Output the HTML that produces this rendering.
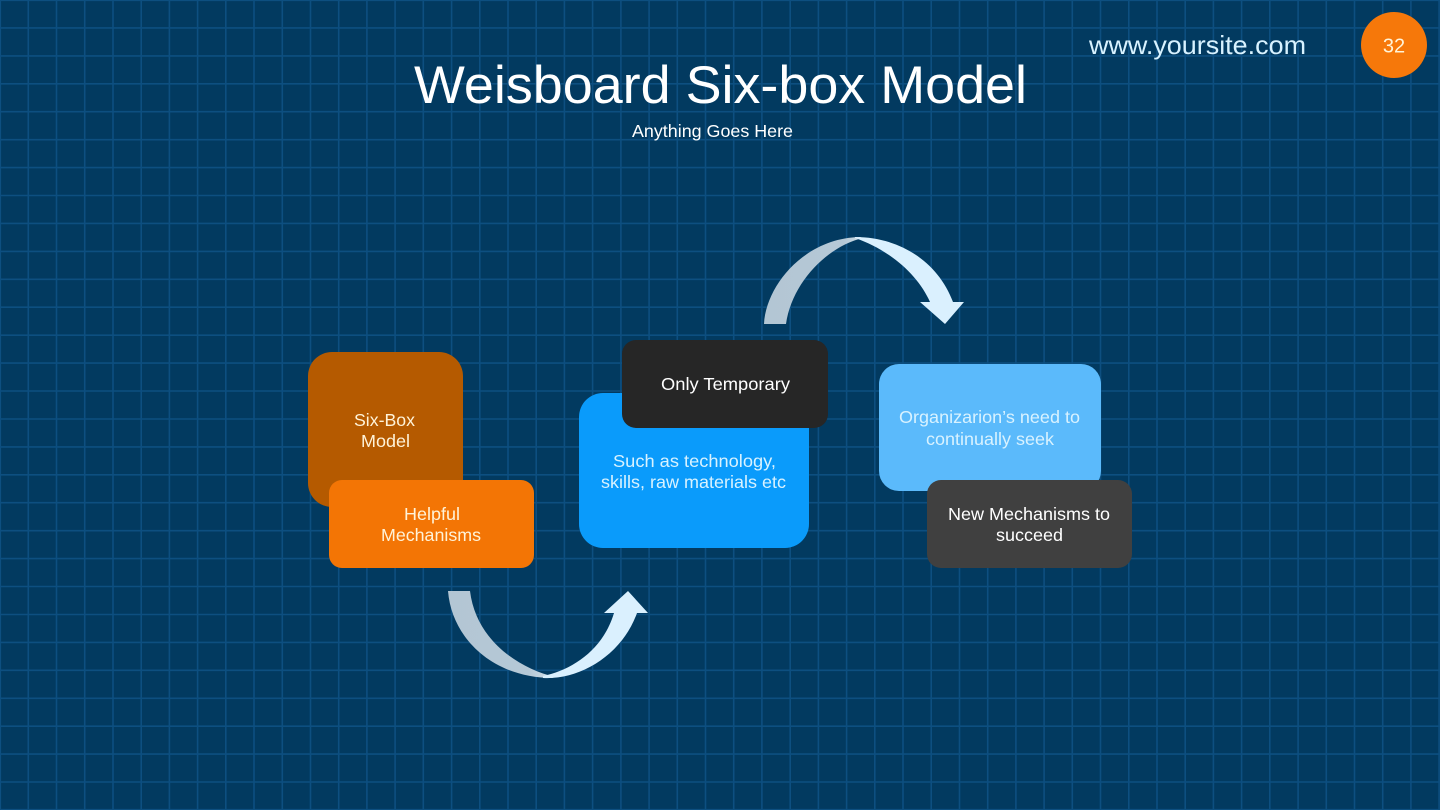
<!DOCTYPE html>
<html><head><meta charset="utf-8"><style>
html,body{margin:0;padding:0;background:#023a60}
svg{display:block}
text{font-family:"Liberation Sans",sans-serif;font-size:17.6px}
</style></head><body>
<svg id="s" width="1440" height="810" viewBox="0 0 1440 810" xmlns="http://www.w3.org/2000/svg">
<defs>
<linearGradient id="l1" x1="0" y1="0" x2="1" y2="0"><stop offset="0" stop-color="#b3c6d4"/><stop offset="0.8" stop-color="#b5c8d6"/><stop offset="1" stop-color="#cfdde6"/></linearGradient>
<linearGradient id="l2" x1="0" y1="0" x2="1" y2="0"><stop offset="0" stop-color="#b3c6d4"/><stop offset="0.75" stop-color="#b5c8d6"/><stop offset="1" stop-color="#d5e3ec"/></linearGradient>
</defs>
<rect width="1440" height="810" fill="#023a60"/>
<path fill="none" stroke="#0d4f80" stroke-width="1.6" d="M0.3 0V810M28.3 0V810M56.5 0V810M84.7 0V810M113 0V810M141.2 0V810M169.4 0V810M197.6 0V810M225.8 0V810M254 0V810M282.3 0V810M310.5 0V810M338.7 0V810M366.9 0V810M395.1 0V810M423.3 0V810M451.6 0V810M479.8 0V810M508 0V810M536.2 0V810M564.4 0V810M592.6 0V810M620.9 0V810M649.1 0V810M677.3 0V810M705.5 0V810M733.7 0V810M761.9 0V810M790.2 0V810M818.4 0V810M846.6 0V810M874.8 0V810M903 0V810M931.2 0V810M959.5 0V810M987.7 0V810M1015.9 0V810M1044.1 0V810M1072.3 0V810M1100.5 0V810M1128.8 0V810M1157 0V810M1185.2 0V810M1213.4 0V810M1241.6 0V810M1269.8 0V810M1298.1 0V810M1326.3 0V810M1354.5 0V810M1382.7 0V810M1410.9 0V810M1439.1 0V810"/>
<path fill="none" stroke="#0d4f80" stroke-width="1.6" d="M0 0.3H1440M0 27.9H1440M0 55.9H1440M0 83.8H1440M0 111.7H1440M0 139.7H1440M0 167.6H1440M0 195.5H1440M0 223.4H1440M0 251.4H1440M0 279.3H1440M0 307.2H1440M0 335.2H1440M0 363.1H1440M0 391H1440M0 419H1440M0 446.9H1440M0 474.8H1440M0 502.7H1440M0 530.7H1440M0 558.6H1440M0 586.5H1440M0 614.5H1440M0 642.4H1440M0 670.3H1440M0 698.3H1440M0 726.2H1440M0 754.1H1440M0 782H1440M0 809.7H1440"/>

<!-- top arrow -->
<path d="M764 324 C766 285 805 238 860 237 L863 238 C828 246 792 282 786 324 Z" fill="url(#l1)"/>
<path d="M855 237 C900 237 938 262 953 302 L964 302 L945 324 L920 302 L930 302 C918 275 890 250 855 238 Z" fill="#daf0fe"/>

<!-- bottom arrow -->
<path d="M448 591 L470 591 C476 640 518 668 555 677 L552 678 C495 678 452 640 448 591 Z" fill="url(#l2)"/>
<path d="M543 678 C580 680 622 655 637 613 L648 613 L628 591 L604 613 L614 613 C603 650 572 670 543 676 Z" fill="#daf0fe"/>

<!-- boxes -->
<rect x="308" y="352" width="155" height="155" rx="24" fill="#b55a00"/>
<rect x="329" y="480" width="205" height="88" rx="13" fill="#f37505"/>
<rect x="579" y="393" width="230" height="155" rx="24" fill="#0a9bfb"/>
<rect x="622" y="340" width="206" height="88" rx="14" fill="#262626"/>
<rect x="879" y="364" width="222" height="127" rx="20" fill="#5bbafb"/>
<rect x="927" y="480" width="205" height="88" rx="14" fill="#404040"/>

<!-- header text -->
<text x="414" y="103" textLength="613" lengthAdjust="spacingAndGlyphs" style="font-size:53px" fill="#fff">Weisboard Six-box Model</text>
<text x="632" y="137" textLength="161" lengthAdjust="spacingAndGlyphs" fill="#fff">Anything Goes Here</text>
<text x="1089" y="54" textLength="217" lengthAdjust="spacingAndGlyphs" style="font-size:26px" fill="#d8f2ff">www.yoursite.com</text>
<circle cx="1394" cy="45" r="33" fill="#f6780a"/>
<text x="1394" y="52.500" text-anchor="middle" style="font-size:20px" fill="#fff3d8">32</text>

<!-- box text -->
<g fill="#fff3d8">
<text x="354" y="426" textLength="61" lengthAdjust="spacingAndGlyphs">Six-Box</text>
<text x="361" y="447" textLength="49" lengthAdjust="spacingAndGlyphs">Model</text>
<text x="404" y="520" textLength="56" lengthAdjust="spacingAndGlyphs">Helpful</text>
<text x="381" y="541" textLength="100" lengthAdjust="spacingAndGlyphs">Mechanisms</text>
</g>
<g fill="#fff">
<text x="661" y="390" textLength="129" lengthAdjust="spacingAndGlyphs">Only Temporary</text>
<text x="948" y="520" textLength="162" lengthAdjust="spacingAndGlyphs">New Mechanisms to</text>
<text x="996" y="541" textLength="67" lengthAdjust="spacingAndGlyphs">succeed</text>
</g>
<g fill="#d8f2ff">
<text x="613" y="467" textLength="163" lengthAdjust="spacingAndGlyphs">Such as technology,</text>
<text x="601" y="488" textLength="185" lengthAdjust="spacingAndGlyphs">skills, raw materials etc</text>
<text x="899" y="423" textLength="181" lengthAdjust="spacingAndGlyphs">Organizarion’s need to</text>
<text x="926" y="445" textLength="128" lengthAdjust="spacingAndGlyphs">continually seek</text>
</g>
</svg>
</body></html>
